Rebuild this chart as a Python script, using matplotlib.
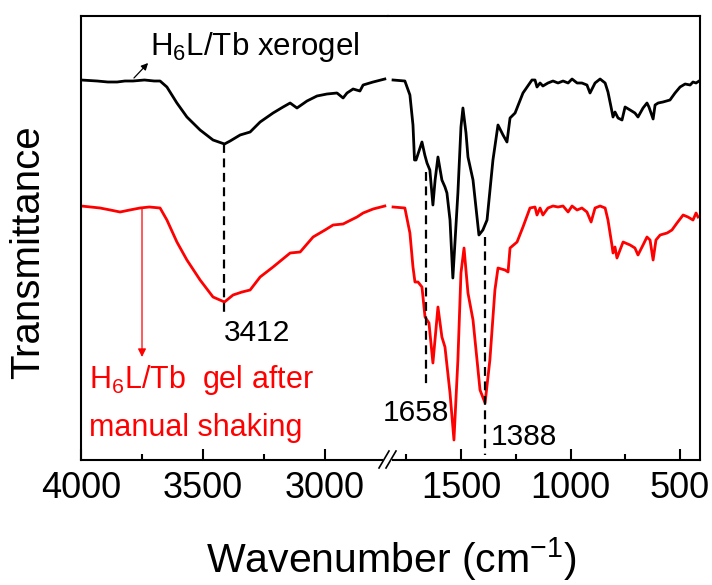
import matplotlib
matplotlib.use("Agg")
import matplotlib.pyplot as plt
from matplotlib.lines import Line2D
from matplotlib.patches import Rectangle

plt.rcParams['font.family'] = ['Liberation Sans', 'DejaVu Sans']
plt.rcParams['mathtext.fontset'] = 'custom'
plt.rcParams['mathtext.rm'] = 'Liberation Sans'
plt.rcParams['mathtext.it'] = 'Liberation Sans:italic'
plt.rcParams['mathtext.bf'] = 'Liberation Sans:bold'

# ---------------- data (wavenumber cm-1, transmittance a.u.) ----------------
xerogel_hi_wn = [4000, 3934, 3890, 3852, 3820, 3787, 3740, 3700, 3676, 3648, 3607, 3566, 3512, 3459,
                 3412, 3389, 3348, 3307, 3266, 3213, 3172, 3143, 3115, 3074, 3033, 2992,
                 2951, 2926, 2910, 2885, 2857, 2844, 2803, 2755]
xerogel_hi_t = [380, 379, 378, 378, 379, 379, 380, 379, 379, 373, 357, 343, 330, 320,
                316, 319, 325, 328, 338, 347, 353, 357, 352, 359, 364, 366,
                367, 362, 367, 371, 369, 375, 378, 381]

xerogel_lo_wn = [1810, 1756, 1733, 1719, 1712, 1705, 1690, 1678, 1665, 1655, 1642, 1628, 1618,
                 1605, 1587, 1573, 1564, 1550, 1537, 1514, 1500, 1491, 1477, 1468, 1445,
                 1418, 1400, 1381, 1354, 1331, 1308, 1290, 1276, 1253, 1217, 1176, 1162,
                 1153, 1139, 1126, 1103, 1080, 1057, 1034, 1011, 993, 970, 948, 925,
                 911, 888, 865, 842, 829, 815, 806, 797, 783, 765, 751, 728, 706, 692,
                 669, 651, 642, 623, 614, 600, 578, 546, 523, 500, 477, 454, 441, 427, 413]
xerogel_lo_t = [380, 379, 365, 335, 300, 300, 310, 318, 305, 297, 290, 255, 280,
                303, 280, 273, 267, 240, 182, 267, 333, 352, 327, 303, 280,
                225, 230, 240, 300, 335, 325, 318, 342, 347, 367, 380, 380,
                373, 377, 374, 377, 379, 377, 379, 377, 381, 377, 377, 375,
                367, 377, 381, 377, 368, 353, 343, 348, 342, 340, 353, 350, 347, 343,
                352, 357, 353, 341, 355, 357, 358, 360, 367, 373, 376, 375, 378, 377, 379]

gel_hi_wn = [4000, 3960, 3922, 3880, 3840, 3800, 3758, 3720, 3676, 3648, 3607, 3566, 3512, 3459,
             3412, 3377, 3340, 3307, 3266, 3213, 3143, 3102, 3049, 3000, 2967, 2926,
             2910, 2869, 2844, 2803, 2755]
gel_hi_t = [254, 253, 252, 250, 248, 250, 252, 253, 252, 240, 218, 200, 180, 163,
            158, 165, 168, 170, 183, 193, 207, 208, 223, 230, 235, 236,
            238, 243, 247, 251, 254]

gel_lo_wn = [1810, 1756, 1733, 1719, 1710, 1696, 1678, 1664, 1646, 1628, 1605, 1587, 1573,
             1550, 1532, 1514, 1500, 1486, 1468, 1445, 1413, 1390, 1368, 1345, 1331,
             1299, 1285, 1276, 1244, 1217, 1185, 1162, 1153, 1139, 1126, 1103, 1080,
             1057, 1034, 1011, 993, 970, 948, 925, 906, 888, 865, 842, 829, 811, 806,
             797, 788, 774, 760, 728, 706, 692, 669, 651, 637, 623, 610, 591, 559,
             537, 514, 486, 464, 441, 427, 418]
gel_lo_t = [253, 252, 227, 193, 178, 178, 173, 143, 137, 97, 153, 123, 113,
            67, 20, 100, 187, 212, 167, 140, 70, 57, 100, 170, 192,
            190, 188, 212, 218, 233, 252, 253, 245, 252, 245, 252, 254,
            253, 254, 248, 254, 250, 252, 248, 238, 252, 254, 252, 240, 215, 207,
            213, 202, 210, 218, 215, 212, 205, 215, 223, 220, 200, 220, 225, 227,
            230, 237, 245, 243, 240, 247, 243]

peak_wn = [3412, 1658, 1388]
peak_labels = ["3412", "1658", "1388"]
dash_top = [316, 288, 223]
dash_bottom = [143, 73, 5]

tick_major_hi = [4000, 3500, 3000]
tick_minor_hi = [3750, 3250]
tick_major_lo = [1500, 1000, 500]
tick_minor_lo = [1750, 1250, 750]

# ---------------- figure ----------------
W, H = 712, 585
fig = plt.figure(figsize=(W / 100, H / 100), dpi=100)
L, R, B, T = 81 / W, 700 / W, 1 - 460 / H, 1 - 16 / H
S = 388 / W
ax1 = fig.add_axes([L, B, S - L, T - B])
ax2 = fig.add_axes([S, B, R - S, T - B])

ax1.set_xlim(4000, 2742)
ax2.set_xlim(1833, 409)
for ax in (ax1, ax2):
    ax.set_ylim(0, 444)
    ax.set_yticks([])
    for sp in ax.spines.values():
        sp.set_linewidth(1.5)
    ax.tick_params(axis='x', which='major', direction='in', length=8, width=1.5,
                   labelsize=26, pad=8)
    ax.tick_params(axis='x', which='minor', direction='in', length=4.5, width=1.5)
ax1.spines['right'].set_visible(False)
ax2.spines['left'].set_visible(False)
ax1.set_xticks(tick_major_hi)
ax1.set_xticks(tick_minor_hi, minor=True)
ax2.set_xticks(tick_major_lo)
ax2.set_xticks(tick_minor_lo, minor=True)

lw = 2.0
ax1.plot(xerogel_hi_wn, xerogel_hi_t, color='black', lw=lw, solid_joinstyle='round')
ax2.plot(xerogel_lo_wn, xerogel_lo_t, color='black', lw=lw, solid_joinstyle='round')
ax1.plot(gel_hi_wn, gel_hi_t, color='#ff0000', lw=lw, solid_joinstyle='round')
ax2.plot(gel_lo_wn, gel_lo_t, color='#ff0000', lw=lw, solid_joinstyle='round')

dash = (0, (4, 2.5))
ax1.plot([peak_wn[0]] * 2, [dash_top[0], dash_bottom[0]], color='black', lw=1.6, ls=dash)
ax2.plot([peak_wn[1]] * 2, [dash_top[1], dash_bottom[1]], color='black', lw=1.6, ls=dash)
ax2.plot([peak_wn[2]] * 2, [dash_top[2], dash_bottom[2]], color='black', lw=1.6, ls=dash)

fs = 21.5
ax1.text(3414, 127, peak_labels[0], fontsize=fs, ha='left', va='center')
ax2.text(1705, 47, peak_labels[1], fontsize=fs, ha='center', va='center')
ax2.text(1363, 23, peak_labels[2], fontsize=fs, ha='left', va='center')

ax1.text(3717, 405, r"H$_6$L/Tb xerogel", fontsize=22.5, ha='left', va='baseline')
ax1.annotate("", xy=(3725, 397), xytext=(3783, 382),
             arrowprops=dict(arrowstyle='-|>', color='black', lw=0.9, mutation_scale=10,
                             shrinkA=0, shrinkB=0))
ax1.text(3967, 72, r"H$_6$L/Tb  gel after", fontsize=22, color='#ff0000', ha='left', va='baseline')
ax1.text(3967, 24, "manual shaking", fontsize=22, color='#ff0000', ha='left', va='baseline')
ax1.annotate("", xy=(3750, 103), xytext=(3750, 252),
             arrowprops=dict(arrowstyle='-|>', color='#ff0000', lw=0.9, mutation_scale=12,
                             shrinkA=0, shrinkB=0))

# axis labels
fig.text(391 / W, 1 - 573 / H, r"Wavenumber (cm$^{-1}$)", fontsize=29.5, ha='center', va='baseline')
fig.text(28 / W, 1 - 252 / H, "Transmittance", fontsize=29, rotation=90, ha='center', va='center')

# break marks
fig.add_artist(Rectangle((383 / W, 1 - 462 / H), 9 / W, 5 / H, transform=fig.transFigure,
                         facecolor='white', edgecolor='none', zorder=10))
for x0 in (379, 386):
    fig.add_artist(Line2D([x0 / W, (x0 + 10) / W], [1 - 468 / H, 1 - 451 / H],
                          transform=fig.transFigure, color='black', lw=1.2, zorder=11))

fig.savefig("out.png", dpi=100, facecolor='white')
